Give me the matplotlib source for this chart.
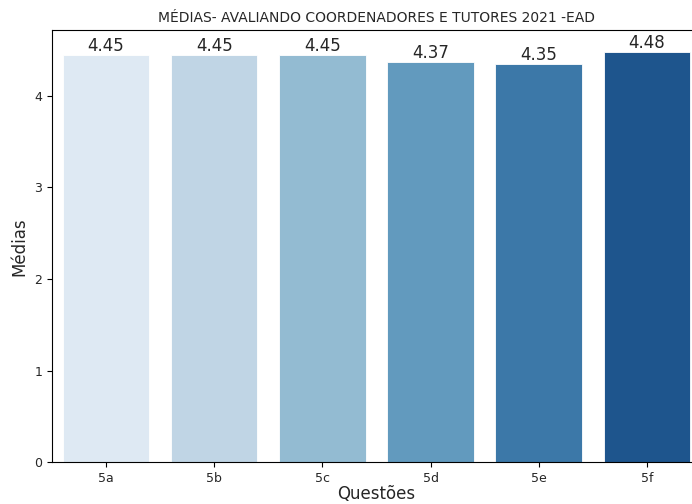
import matplotlib
matplotlib.use("Agg")
import matplotlib.pyplot as plt
import seaborn as sns

categories = ["5a", "5b", "5c", "5d", "5e", "5f"]
values = [4.45, 4.45, 4.45, 4.37, 4.35, 4.48]
labels = ["4.45", "4.45", "4.45", "4.37", "4.35", "4.48"]

fig = plt.figure(figsize=(6.92, 5.04), dpi=100)
# axes extends slightly past the right edge, as in the (cropped) reference
ax = fig.add_axes([0.075, 0.083, 0.938, 0.857])
colors = [sns.desaturate(c, 0.75) for c in sns.color_palette("Blues", len(categories))]
bars = ax.bar(range(len(categories)), values, width=0.8, color=colors,
              edgecolor="white", linewidth=0.6)
ax.set_xticks(range(len(categories)))
ax.set_xticklabels(categories)
ax.set_xlim(-0.5, len(categories) - 0.5)
ax.set_ylim(0, 4.715)
for b, lab in zip(bars, labels):
    ax.annotate(lab, (b.get_x() + b.get_width() / 2, b.get_height()),
                ha="center", va="bottom", fontsize=12, color="#262626",
                xytext=(0, 0), textcoords="offset points")
ax.set_title("MÉDIAS- AVALIANDO COORDENADORES E TUTORES 2021 -EAD",
             fontsize=10, color="#262626")
ax.set_xlabel("Questões", fontsize=12, color="#262626", labelpad=0)
ax.set_ylabel("Médias", fontsize=12, color="#262626")
ax.tick_params(labelsize=9, labelcolor="#262626")
fig.savefig("out.png", dpi=100)
